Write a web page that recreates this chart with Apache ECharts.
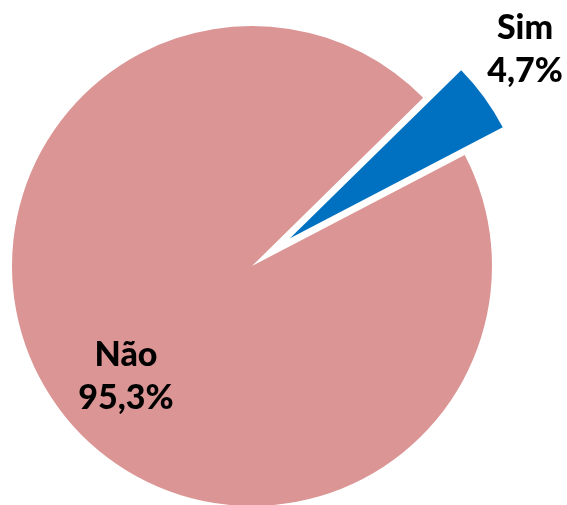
<!DOCTYPE html>
<html><head><meta charset="utf-8">
<script src="https://cdn.jsdelivr.net/npm/echarts@6/dist/echarts.min.js"></script>
<style>html,body{margin:0;padding:0;background:#fff}#c{width:567px;height:505px}</style>
</head><body><div id="c"></div>
<script>
const categories = ['Sim', 'Não'];
const values = [4.7, 95.3];
const colors = ['#0070C0', '#DA9594'];
const labelTexts = ['Sim\n4,7%', 'Não\n95,3%'];

const START = 44.5, CX = 252, CY = 266, R = 240, EXPLODE = 47;
const total = values.reduce((a, b) => a + b, 0);
const mid = (START - values[0] / total * 360 / 2) * Math.PI / 180;
const labelPos = [[525, 50], [126, 377]];

function makeSeries(visibleIdx, center) {
  return {
    type: 'pie',
    center: center,
    radius: R,
    startAngle: START,
    clockwise: true,
    silent: true,
    avoidLabelOverlap: false,
    emphasis: {disabled: true},
    labelLine: {show: false},
    data: categories.map((c, i) => ({
      name: c,
      value: values[i],
      itemStyle: {color: i === visibleIdx ? colors[i] : 'rgba(0,0,0,0)'},
      label: {
        show: i === visibleIdx,
        position: 'inside',
        formatter: labelTexts[i],
        fontFamily: 'Lato',
        fontWeight: 900,
        fontSize: 34,
        lineHeight: 43,
        color: '#000',
        align: 'center'
      }
    })),
    labelLayout: function (p) {
      const pos = labelPos[p.dataIndex];
      return {x: pos[0], y: pos[1], align: 'center', verticalAlign: 'middle'};
    }
  };
}

const chart = echarts.init(document.getElementById('c'), null, {renderer: 'canvas'});
chart.setOption({
  animation: false,
  series: [
    makeSeries(1, [CX, CY]),
    makeSeries(0, [CX + EXPLODE * Math.cos(mid), CY - EXPLODE * Math.sin(mid)])
  ]
});
</script></body></html>
